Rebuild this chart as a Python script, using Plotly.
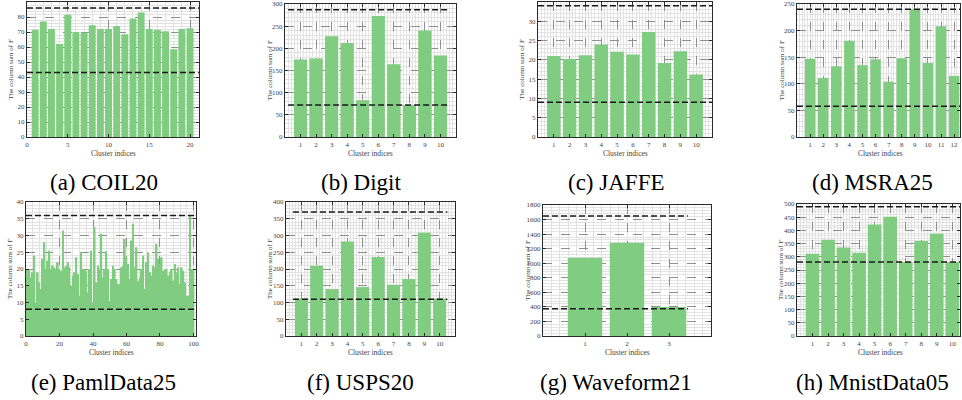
import plotly.graph_objects as go

W, H = 962, 400

# ---------------- data ----------------
coil20 = [71.5, 77, 72, 62, 81.5, 70, 69.5, 74.5, 72, 72, 74, 68.5, 79, 83, 72, 71.5, 70.5, 58.5, 72, 72.5]
digit = [175, 177, 227, 212, 83, 273, 164, 72, 240, 184]
jaffe = [21, 20.2, 21.2, 24, 22.1, 21.4, 27.2, 19.2, 22.2, 16.2]
msra25 = [147, 111, 133, 181, 135, 146, 104, 148, 240, 139, 208, 115]
paml25 = [20, 20, 17.5, 19, 24, 10, 19, 16, 14, 23,
          28, 20, 22.5, 25.5, 20, 21, 20.5, 20, 22, 20,
          19.5, 31.5, 20.5, 21, 22, 20.5, 15, 18, 19, 23.5,
          18.5, 12, 25, 20, 20, 19.5, 13, 20, 25.5, 10,
          32.5, 16, 21, 20, 30.5, 17.5, 20, 25.3, 20, 10.5,
          17, 21, 20, 17, 15.5, 15.5, 20.5, 21, 29, 23.5,
          21.5, 17, 28.5, 33.5, 20.5, 26.5, 16.5, 17.5, 20, 24,
          14, 22, 25, 19, 18, 21, 20.5, 27.5, 23, 21.5,
          23.5, 19.5, 20, 20, 18, 19, 20, 16.5, 21.5, 19,
          20.5, 15.5, 20.5, 19.5, 16, 12, 12, 36, 20, 20]
usps20 = [112, 210, 140, 282, 146, 236, 153, 170, 308, 112]
waveform21 = [1075, 1280, 400]
mnist05 = [312, 365, 335, 315, 422, 452, 280, 360, 387, 280]

series = [coil20, digit, jaffe, msra25, paml25, usps20, waveform21, mnist05]
upper_thr = [86, 287, 34, 240, 36, 370, 1650, 490]
lower_thr = [43, 72, 9, 58, 8, 110, 375, 280]
captions = ["(a) COIL20", "(b) Digit", "(c) JAFFE", "(d) MSRA25",
            "(e) PamlData25", "(f) USPS20", "(g) Waveform21", "(h) MnistData05"]
y_title = "The column sum of F"
x_title = "Cluster indices"

# ---------------- styles / layout ----------------
# box in pixels: (left, right, top, bottom)
panels = [
    dict(box=(27, 199, 2, 137), xr=[0, 21.1], xt=[0, 5, 10, 15, 20], xm=1, yr=[0, 90], yd=10, ym=2, bw=0.85, lx=None),
    dict(box=(285, 456, 4, 137), xr=[0, 11], xt=None, xm=0.2, yr=[0, 300], yd=50, ym=10, bw=0.85, lx=(0.2, 10.6)),
    dict(box=(538, 712, 2, 137), xr=[0, 11], xt=None, xm=0.2, yr=[0, 35], yd=5, ym=1, bw=0.85, lx=None),
    dict(box=(797, 960, 4, 137), xr=[0, 12.45], xt=None, xm=0.2, yr=[0, 250], yd=50, ym=10, bw=0.8, lx=None),
    dict(box=(26, 196, 202, 336), xr=[0, 101.5], xt=[0, 20, 40, 60, 80, 100], xm=4, yr=[0, 40], yd=5, ym=1, bw=1.0, lx=None),
    dict(box=(286, 455, 202, 336), xr=[0, 11], xt=None, xm=0.2, yr=[0, 400], yd=50, ym=10, bw=0.85, lx=(0.45, 10.5)),
    dict(box=(543, 711, 205, 336), xr=[0, 4], xt=None, xm=0.2, yr=[0, 1800], yd=200, ym=40, bw=0.82, lx=(0.0, 3.45)),
    dict(box=(797, 960, 204, 336), xr=[0, 10.5], xt=None, xm=0.2, yr=[0, 500], yd=50, ym=10, bw=0.88, lx=None),
]
x_title_cx = [113, 370, 625, 880, 111, 370, 627, 880]
cap_x = [104, 361, 616, 872, 103, 360, 616, 872]

FONT = "Liberation Serif"
BAR = "#80cc80"
AX = "#2b2b2b"

fig = go.Figure()
layout = dict(width=W, height=H, margin=dict(l=0, r=0, t=0, b=0),
              paper_bgcolor="white", plot_bgcolor="white", showlegend=False,
              font=dict(family=FONT, color="#333"))
shapes = []
annotations = []

def px_x(v):
    return v / W

def px_y(v):
    return 1 - v / H

for i, (vals, p) in enumerate(zip(series, panels)):
    n = i + 1
    sfx = "" if n == 1 else str(n)
    xa, ya = "x" + sfx, "y" + sfx
    l, r, t, b = p["box"]
    cats = list(range(1, len(vals) + 1))
    fig.add_trace(go.Bar(x=cats, y=vals, width=p["bw"], marker=dict(color=BAR, line=dict(width=0)),
                         xaxis=xa, yaxis=ya, hoverinfo="x+y"))
    common = dict(showline=True, linecolor=AX, linewidth=1.3, mirror="allticks",
                  ticks="inside", ticklen=3, tickwidth=0.8, tickcolor=AX,
                  showgrid=True, gridcolor="#8f8f8f", gridwidth=0.8, griddash="dash",
                  zeroline=False, automargin=False,
                  tickfont=dict(family=FONT, size=7, color="#444"))
    xt = p["xt"] if p["xt"] is not None else cats
    layout["xaxis" + sfx] = dict(common, domain=[px_x(l), px_x(r)], range=p["xr"],
                                 anchor=ya, tickmode="array", tickvals=xt,
                                 minor=dict(showgrid=True, dtick=p["xm"], tick0=0, gridcolor="#e2e2e2",
                                            griddash="solid", gridwidth=0.5))
    layout["yaxis" + sfx] = dict(common, domain=[px_y(b), px_y(t)], range=p["yr"],
                                 anchor=xa, tick0=0, dtick=p["yd"],
                                 minor=dict(showgrid=True, dtick=p["ym"], gridcolor="#e2e2e2",
                                            griddash="solid", gridwidth=0.5))
    lx = p["lx"] if p["lx"] is not None else tuple(p["xr"])
    for thr in (upper_thr[i], lower_thr[i]):
        shapes.append(dict(type="line", xref=xa, yref=ya, x0=lx[0], x1=lx[1], y0=thr, y1=thr,
                           line=dict(color="#1a1a1a", width=1.5, dash="6px,3px")))
    cy = (t + b) / 2
    row_bottom = 137 if i < 4 else 336
    annotations.append(dict(text=x_title, xref="paper", yref="paper", x=px_x(x_title_cx[i]),
                            y=px_y(row_bottom + 16), showarrow=False, xanchor="center", yanchor="middle",
                            font=dict(family=FONT, size=7.5, color="#444")))
    annotations.append(dict(text=y_title, xref="paper", yref="paper", x=px_x(l - 16), y=px_y(cy),
                            showarrow=False, xanchor="center", yanchor="middle", textangle=-90,
                            font=dict(family=FONT, size=7, color="#444")))

for i, c in enumerate(captions):
    cy = 182 if i < 4 else 382
    annotations.append(dict(text=c, xref="paper", yref="paper", x=px_x(cap_x[i]), y=px_y(cy),
                            showarrow=False, xanchor="center", yanchor="middle",
                            font=dict(family=FONT, size=23, color="black")))

layout["shapes"] = shapes
layout["annotations"] = annotations
fig.update_layout(**layout)
fig.write_html("out.html", config={"displayModeBar": False},
               post_script="document.body.style.margin='0px';document.body.style.padding='0px';"
                           "document.body.style.overflow='hidden';")
